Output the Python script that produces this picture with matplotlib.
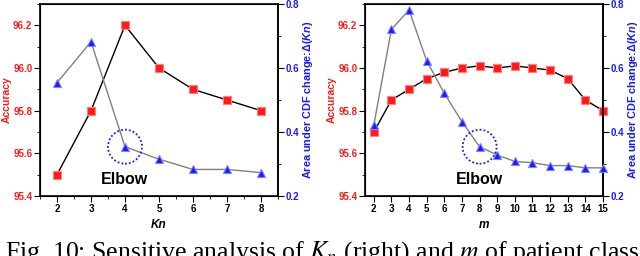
import numpy as np
import matplotlib.pyplot as plt
from matplotlib.patches import Ellipse
from matplotlib.ticker import MultipleLocator

plt.rcParams['font.family'] = ['Liberation Sans', 'DejaVu Sans']
plt.rcParams['mathtext.fontset'] = 'custom'
plt.rcParams['mathtext.it'] = 'Liberation Sans:italic:bold'
plt.rcParams['mathtext.rm'] = 'Liberation Sans:bold'

# left panel: Kn
kn = [2, 3, 4, 5, 6, 7, 8]
acc_kn = [95.5, 95.8, 96.2, 96.0, 95.9, 95.85, 95.8]
delta_kn = [0.554, 0.682, 0.354, 0.315, 0.283, 0.283, 0.273]

# right panel: m
m = [2, 3, 4, 5, 6, 7, 8, 9, 10, 11, 12, 13, 14, 15]
acc_m = [95.7, 95.85, 95.9, 95.95, 95.98, 96.0, 96.01, 96.0, 96.01, 96.0, 95.99, 95.95, 95.85, 95.8]
delta_m = [0.422, 0.721, 0.781, 0.622, 0.521, 0.432, 0.354, 0.328, 0.308, 0.304, 0.295, 0.295, 0.288, 0.288]

red = "#ff1a1a"
blue = "#1a1aff"

fig = plt.figure(figsize=(6.4, 2.56), dpi=100)
ax1 = fig.add_axes([40/640, 1-196/256, 238/640, 192/256])
ax2 = fig.add_axes([365/640, 1-196/256, 238/640, 192/256])


def panel(ax, x, acc, dl, xlim, xlab, elbow_x, elbow_y, txt_x, xminor):
    ax.plot(x, acc, color="black", lw=1.0, marker="s", ms=5.5, mfc=red, mec="#ff8080", mew=0.8, zorder=3, clip_on=False)
    ax.set_xlim(*xlim)
    ax.set_ylim(95.4, 96.3)
    ax.set_xticks(x)
    if xminor:
        ax.xaxis.set_minor_locator(MultipleLocator(0.5))
    ax.yaxis.set_major_locator(MultipleLocator(0.2))
    ax.yaxis.set_minor_locator(MultipleLocator(0.1))
    ax.tick_params(axis="y", labelsize=7, direction="out", length=4, pad=1.5, color="black", labelcolor=red)
    ax.tick_params(axis="x", labelsize=7, direction="out", length=4, pad=2)
    ax.tick_params(which="minor", length=2)
    for lb in ax.get_xticklabels() + ax.get_yticklabels():
        lb.set_fontweight("bold")
    ax.set_ylabel("Accuracy", color=red, fontsize=7.5, fontweight="bold")
    ax.yaxis.set_label_coords(-0.118, 0.5)
    ax.set_xlabel(xlab, fontsize=8.5, fontweight="bold", fontstyle="italic", labelpad=3)
    for s in ax.spines.values():
        s.set_linewidth(1.2)

    tw = ax.twinx()
    tw.plot(x, dl, color="gray", lw=1.0, marker="^", ms=6, mfc=blue, mec="#8080ff", mew=0.8, zorder=3, clip_on=False)
    tw.set_ylim(0.2, 0.8)
    tw.yaxis.set_major_locator(MultipleLocator(0.2))
    tw.yaxis.set_minor_locator(MultipleLocator(0.1))
    tw.tick_params(axis="y", labelsize=7, direction="out", length=4, pad=1.5, color="black", labelcolor=blue)
    tw.tick_params(which="minor", length=2)
    for lb in tw.get_yticklabels():
        lb.set_fontweight("bold")
    tw.set_ylabel(r"Area under CDF change:$\Delta$($\mathit{Kn}$)", color=blue, fontsize=7.8, fontweight="bold", labelpad=1.5)
    tw.spines["right"].set_linewidth(1.2)

    # dotted circle around the elbow point
    px, py = tw.transData.transform((elbow_x, elbow_y))
    circ = Ellipse((px, py), 34, 34, fill=False, ls=(0, (1, 1.2)), lw=1.3, ec=blue,
                   transform=None, zorder=4)
    circ.set_figure(fig)
    fig.patches.append(circ)
    tw.text(txt_x, 0.252, "Elbow", fontsize=11.5, fontweight="bold", ha="center", va="center")


panel(ax1, kn, acc_kn, delta_kn, (1.5, 8.5), "Kn", 4, 0.354, 4.0, True)
panel(ax2, m, acc_m, delta_m, (1.5, 15), "m", 8, 0.354, 8.0, False)

fig.text(0.008, -0.012, r"Fig. 10: Sensitive analysis of $K_n$ (right) and $m$ of patient class",
         family="Liberation Serif", fontsize=18.5, ha="left", va="baseline", math_fontfamily="stix")

fig.savefig("out.png", dpi=100)
